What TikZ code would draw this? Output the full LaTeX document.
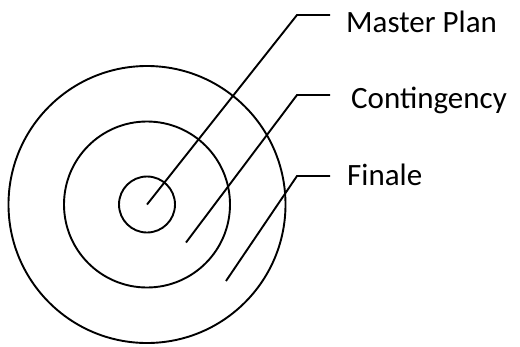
\documentclass[tikz,border=0pt]{standalone}
\usepackage{fontspec}
\setmainfont{Carlito}
\usetikzlibrary{positioning}
\tikzset{ring/.style={draw,circle,line width=1.9pt,inner sep=0pt},
 leader/.style={line width=1.9pt},
 tag/.style={anchor=base west,inner sep=0pt,font=\fontsize{31}{36}\selectfont}}

\begin{document}
\begin{tikzpicture}[x=1pt,y=-1pt]
\useasboundingbox (0,0) rectangle (520,346);
\node[ring,minimum size=277pt] (outer) at (147,204.5) {};
\node[ring,minimum size=166pt] (middle) at (147,204.5) {};
\node[ring,minimum size=56pt] (inner) at (147,204.5) {};
\coordinate (conttip) at (186,242.5);
\coordinate (fintip) at (226,281);
\coordinate (mpbend) at (297,15);
\coordinate (contbend) at (297,95);
\coordinate (finbend) at (297,176);
\node[tag] (mp) at (346,32) {Master Plan};
\node[tag] (cont) at (351,108) {Contingency};
\node[tag] (fin) at (347,185) {Finale};
\draw[leader] (inner.center) -- (mpbend) -- (mpbend -| 330,0);
\draw[leader] (conttip) -- (contbend) -- (contbend -| 330,0);
\draw[leader] (fintip) -- (finbend) -- (finbend -| 330,0);
\end{tikzpicture}
\end{document}
